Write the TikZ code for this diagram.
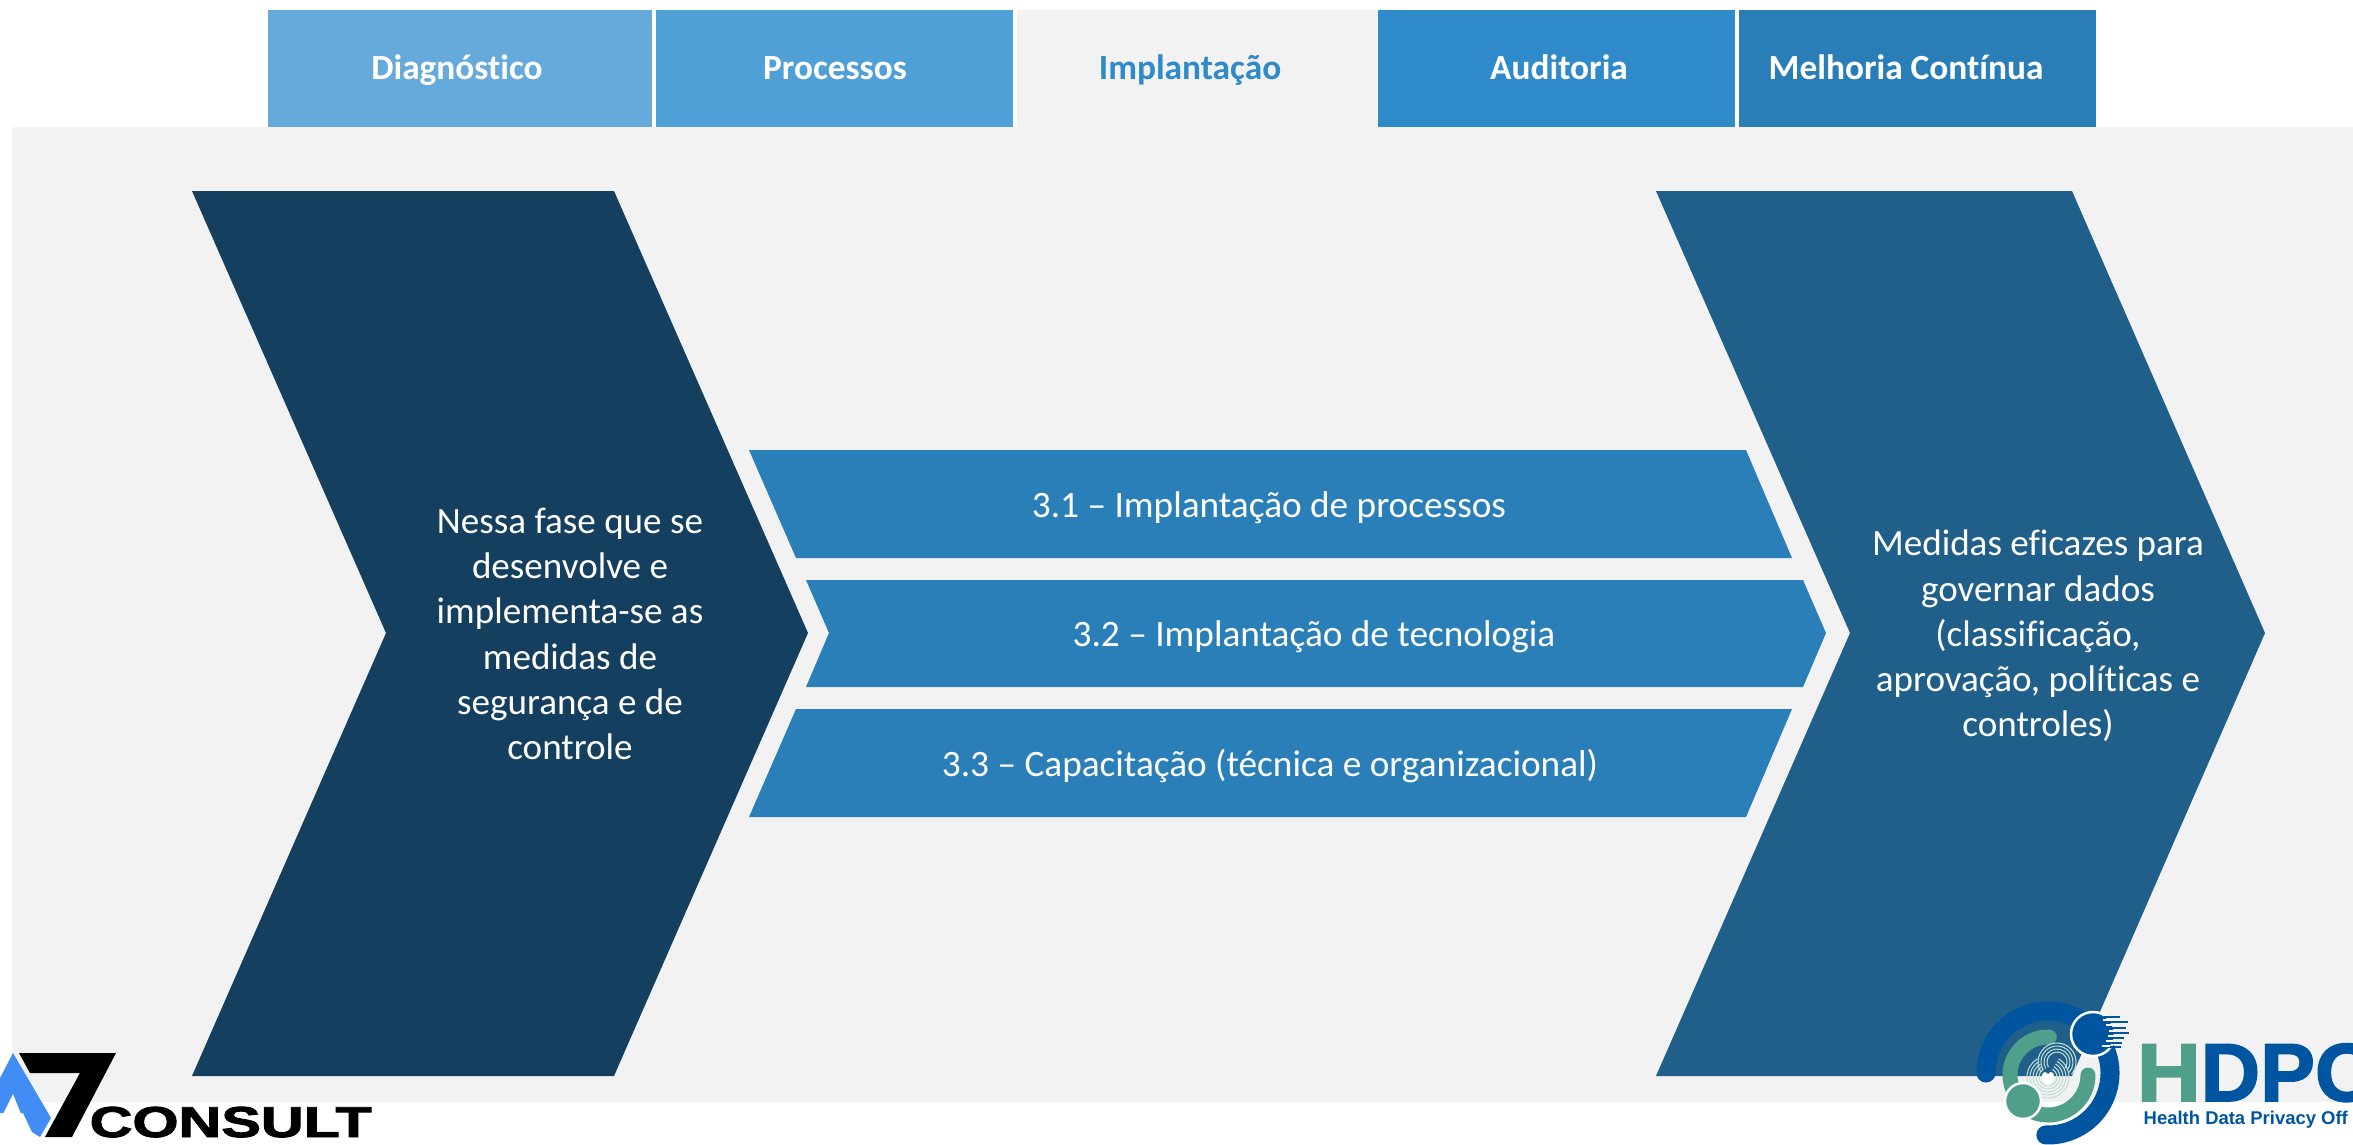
\documentclass[tikz,border=0pt]{standalone}
\usepackage{fontspec}
\setmainfont{Carlito}[Ligatures=NoCommon]
\newfontfamily\logofont{Liberation Sans}
\newfontfamily\logofat{Liberation Sans}[BoldFeatures={FakeBold=2}]
\usetikzlibrary{positioning}

\definecolor{fundo}{HTML}{F2F2F2}
\definecolor{tabA}{HTML}{66AADC}
\definecolor{tabB}{HTML}{50A0D8}
\definecolor{tabC}{HTML}{2E8AC9}
\definecolor{tabD}{HTML}{2A7EB7}
\definecolor{barra}{HTML}{2B7FB8}
\definecolor{chevA}{HTML}{153F5E}
\definecolor{chevB}{HTML}{1F5F8A}
\definecolor{hdpoazul}{HTML}{0055A0}
\definecolor{hdpoverde}{HTML}{4F9F8B}
\definecolor{azulA}{HTML}{418CF5}

\tikzset{
	tabtext/.style={text=white, font=\fontsize{10.05}{13}\selectfont\bfseries, inner sep=0pt, anchor=base},
	bartext/.style={text=white, font=\fontsize{10.6}{13}\selectfont, inner sep=0pt, anchor=base},
	chevtext/.style={text=white, font=\fontsize{10.55}{12.85}\selectfont, align=center, inner sep=0pt},
	bararc/.style={hdpoazul, line width=0.19cm, line cap=round},
	greenarc/.style={hdpoverde, line width=0.15cm, line cap=round},
	printline/.style={white!65!hdpoverde, line width=0.3pt},
	logoletter/.style={anchor=base west, inner sep=0pt, font=\logofat\fontsize{23.4}{24}\selectfont\bfseries}
}

\begin{document}
\begin{tikzpicture}[x=0.01cm, y=-0.01cm]
	\useasboundingbox (0,0) rectangle (2353,1145);
	\clip (0,0) rectangle (2353,1145);

	%% Fundo
	\fill[fundo] (12,127) rectangle (2353,1102);
	\fill[fundo] (1017,10) rectangle (1377,127);

	%% Abas
	\fill[tabA] (268,10) rectangle (652,127);
	\fill[tabB] (656,10) rectangle (1013,127);
	\fill[tabC] (1378,10) rectangle (1735,127);
	\fill[tabD] (1739,10) rectangle (2096,127);
	\node[tabtext] (diag) at (457,79) {Diagnóstico};
	\node[tabtext] (proc) at (835,79) {Processos};
	\node[tabtext, text=tabC] (impl) at (1190,79) {Implantação};
	\node[tabtext] (audi) at (1559,79) {Auditoria};
	\node[tabtext] (melh) at (1906,79) {Melhoria Contínua};

	%% Chevron esquerdo
	\fill[chevA] (192,191) -- (614,191) -- (808,633) -- (614,1076)
		-- (192,1076) -- (386,633) -- cycle;
	\node[chevtext] (fase) at (570,634) {Nessa fase que se\\desenvolve e\\implementa-se as\\medidas de\\segurança e de\\controle};

	%% Barras
	\fill[barra] (749,450) -- (1746,450) -- (1792,558) -- (796,558) -- cycle;
	\fill[barra] (806,580) -- (1803,580) -- (1826,633) -- (1803,687)
		-- (806,687) -- (829,633) -- cycle;
	\fill[barra] (796,709) -- (1792,709) -- (1746,817) -- (749,817) -- cycle;
	\node[bartext] (tres1) at (1269,517) {3.1 – Implantação de processos};
	\node[bartext] (tres2) at (1314,646) {3.2 – Implantação de tecnologia};
	\node[bartext] (tres3) at (1270,776) {3.3 – Capacitação (técnica e organizacional)};

	%% Chevron direito
	\fill[chevB] (1656,191) -- (2072,191) -- (2265,633) -- (2072,1076)
		-- (1656,1076) -- (1850,633) -- cycle;
	\node[chevtext] (medidas) at (2038,636) {Medidas eficazes para\\governar dados\\(classificação,\\aprovação, políticas e\\controles)};

	%% Logo A7
	\fill[azulA] (13,1053) -- (51,1118) -- (40,1137) -- (32,1132) -- (23,1113)
		-- (0,1113) -- (0,1078) -- cycle;
	\fill[white] (13,1094) -- (21,1114) -- (3,1114) -- cycle;
	\fill[black] (19,1053) -- (116,1053) -- (72,1137) -- (45,1137) -- (80,1073) -- (30,1073) -- cycle;
	\node[anchor=base west, inner sep=0pt] (consult) at (89,1137)
		{\scalebox{1.37}[1]{\logofat\fontsize{12.3}{13}\selectfont\bfseries CONSULT}};

	%% Logo HDPO
	\draw[bararc] (2048,1073)+(180:62) arc [start angle=180, end angle=300, radius=62];
	\draw[bararc] (2048,1073)+(-25:62) arc [start angle=-25, end angle=92, radius=62];
	\draw[greenarc] (2048,1075)+(-88:38) arc [start angle=-88, end angle=-210, radius=38];
	\draw[greenarc] (2048,1075)+(0:40) arc [start angle=0, end angle=120, radius=40];

	%% digital e coracao
	\foreach \r in {9,12,15,18,21}
		\draw[printline] (2048,1077)+(-60:\r) arc [start angle=-60, end angle=240, radius=\r];
	\foreach \r in {10,13,16,19}
		\draw[printline] (2057,1062)+(150:\r) arc [start angle=150, end angle=400, radius=\r];
	\fill[white] (2048,1086) .. controls (2040,1079) and (2041,1072) .. (2045,1072)
		.. controls (2047,1072) and (2048,1074) .. (2048,1075)
		.. controls (2048,1074) and (2049,1072) .. (2051,1072)
		.. controls (2055,1072) and (2056,1079) .. (2048,1086) -- cycle;

	%% circulos
	\draw[fill=hdpoverde, draw=white, line width=0.7pt] (2023,1101) circle [radius=18];
	\draw[fill=hdpoazul, draw=white, line width=0.7pt] (2093,1034) circle [radius=22];
	\foreach \xa/\xb/\ya in {2104/2120/1017, 2106/2128/1022, 2108/2126/1028, 2110/2129/1033, 2106/2124/1038, 2108/2122/1043, 2104/2121/1047}
		\draw[hdpoazul, line width=0.5pt] (\xa,\ya) -- (\xb,\ya);
	\foreach \xa/\xb/\ya in {2103/2112/1020, 2106/2116/1025, 2109/2116/1031, 2108/2116/1036, 2106/2114/1041, 2102/2110/1046}
		\draw[white, line width=0.5pt] (\xa,\ya) -- (\xb,\ya);

	%% HDPO
	\node[logoletter, text=hdpoverde] (hdpoh) at (2136,1101) {\scalebox{1.08}[1]{H}};
	\node[logoletter, text=hdpoazul] (hdpodpo) at (2200,1101) {DPO};
	\node[anchor=base west, inner sep=0pt, text=hdpoazul] (hdpoff) at (2143,1124)
		{\logofont\fontsize{5.25}{6}\selectfont\bfseries Health Data Privacy Off};
\end{tikzpicture}
\end{document}
